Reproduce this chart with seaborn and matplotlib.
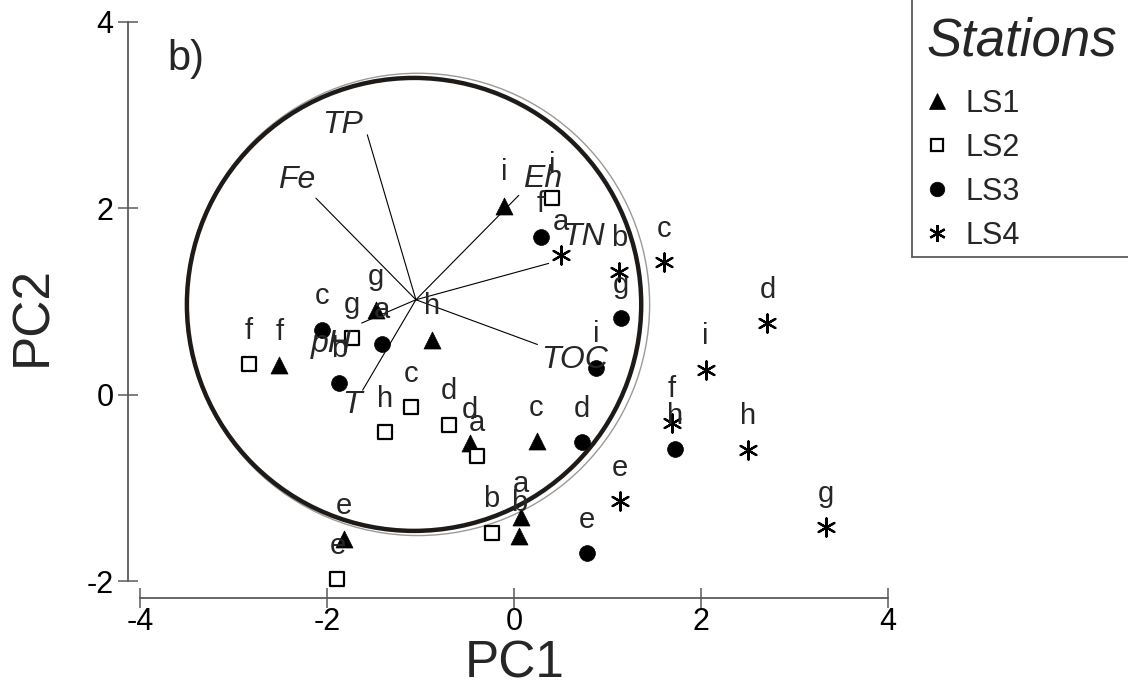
import numpy as np
import pandas as pd
import matplotlib
matplotlib.use("Agg")
import matplotlib.pyplot as plt
import seaborn as sns
from matplotlib.patches import Ellipse
from matplotlib.lines import Line2D

sns.set_theme(style="white")
plt.rcParams['font.family'] = ['Liberation Sans', 'DejaVu Sans']
plt.rcParams['axes.unicode_minus'] = False

# Sample codes shared by every station
samples = list("abcdefghi")

# PCA scores (PC1, PC2) per station, in sample order a..i
ls1_pc1 = [0.07, 0.05, 0.24, -0.47, -1.82, -2.51, -1.48, -0.88, -0.11]
ls1_pc2 = [-1.31, -1.52, -0.50, -0.52, -1.55, 0.32, 0.91, 0.59, 2.03]
ls2_pc1 = [-0.40, -0.24, -1.10, -0.70, -1.89, -2.84, -1.73, -1.38, 0.41]
ls2_pc2 = [-0.66, -1.48, -0.13, -0.32, -1.98, 0.33, 0.61, -0.40, 2.11]
ls3_pc1 = [-1.41, -1.87, -2.05, 0.73, 0.78, 0.29, 1.14, 1.72, 0.88]
ls3_pc2 = [0.55, 0.13, 0.70, -0.51, -1.70, 1.69, 0.82, -0.58, 0.29]
ls4_pc1 = [0.50, 1.12, 1.60, 2.71, 1.13, 1.69, 3.34, 2.50, 2.05]
ls4_pc2 = [1.50, 1.32, 1.42, 0.77, -1.14, -0.30, -1.42, -0.59, 0.27]

stations = ["LS1", "LS2", "LS3", "LS4"]

# Variable loadings drawn as rays from a common origin
origin = (-1.05, 1.02)
variables = ["TP", "Fe", "Eh", "TN", "TOC", "T", "pH"]
var_pc1 = [-1.57, -2.12, 0.05, 0.37, 0.25, -1.62, -1.63]
var_pc2 = [2.79, 2.11, 2.14, 1.41, 0.54, 0.05, 0.77]

# Correlation circle
circle_center = (-1.07, 0.97)
circle_radius = 2.43

scores = pd.DataFrame({
    "station": np.repeat(stations, len(samples)),
    "sample": samples * len(stations),
    "PC1": ls1_pc1 + ls2_pc1 + ls3_pc1 + ls4_pc1,
    "PC2": ls1_pc2 + ls2_pc2 + ls3_pc2 + ls4_pc2,
})

marker_styles = {
    "LS1": dict(marker="^", facecolor="black", edgecolor="black", s=150, linewidth=0.5, ms=11.5),
    "LS2": dict(marker="s", facecolor="white", edgecolor="black", s=100, linewidth=1.6, ms=8.5),
    "LS3": dict(marker="o", facecolor="black", edgecolor="black", s=130, linewidth=0.5, ms=10.5),
    "LS4": dict(marker=(6, 2, 0), facecolor="black", edgecolor="black", s=170, linewidth=1.6, ms=12),
}

W, H = 1128, 698
fig = plt.figure(figsize=(W / 100, H / 100), dpi=100)
ax = fig.add_axes([128 / W, 100 / H, 760 / W, 576 / H])

# Correlation circle with its light outer rim
ax.add_patch(Ellipse((circle_center[0] + 0.04, circle_center[1]), 2 * (circle_radius + 0.05),
                     2 * (circle_radius + 0.05), fill=False, edgecolor="#9a9a9a", lw=1.0, zorder=1))
ax.add_patch(Ellipse(circle_center, 2 * circle_radius, 2 * circle_radius,
                     fill=False, edgecolor="#1e1a18", lw=3.2, zorder=2))

# Loading rays and their italic labels
label_offsets = {"TP": (-18, 7), "Fe": (-14, 13), "Eh": (17, 12), "TN": (25, 19),
                 "TOC": (27, -11), "T": (-8, -11), "pH": (-22, -15)}
for name, vx, vy in zip(variables, var_pc1, var_pc2):
    ax.plot([origin[0], vx], [origin[1], vy], color="black", lw=0.8, zorder=3)
    ax.annotate(name, (vx, vy), xytext=label_offsets[name], textcoords="offset points",
                ha="center", va="center", fontsize=23, style="italic", zorder=5)

# Sample scores, one call per station so each gets its own marker
handles = []
for st in stations:
    sub = scores[scores["station"] == st]
    sty = marker_styles[st]
    sns.scatterplot(data=sub, x="PC1", y="PC2", ax=ax, marker=sty["marker"],
                    color=sty["facecolor"], edgecolor=sty["edgecolor"], s=sty["s"],
                    linewidth=sty["linewidth"], zorder=4, legend=False)
    for _, row in sub.iterrows():
        ax.annotate(row["sample"], (row["PC1"], row["PC2"]), xytext=(0, 24),
                    textcoords="offset points", ha="center", va="center",
                    fontsize=21, zorder=5)
    handles.append(Line2D([], [], linestyle="none", marker=sty["marker"],
                          markerfacecolor=sty["facecolor"], markeredgecolor=sty["edgecolor"],
                          markersize=sty["ms"], markeredgewidth=sty["linewidth"], label=st))

ax.set_xlim(-4.13, 4.0)
ax.set_ylim(-2.18, 4.0)
ax.set_xticks([-4, -2, 0, 2, 4])
ax.set_yticks([-2, 0, 2, 4])
for side in ("top", "right"):
    ax.spines[side].set_visible(False)
ax.spines["left"].set_bounds(-2, 4)
ax.spines["bottom"].set_bounds(-4, 4)
for side in ("left", "bottom"):
    ax.spines[side].set_color("#5a5a5a")
    ax.spines[side].set_linewidth(1.3)
ax.tick_params(bottom=True, left=True, direction="inout", length=15, width=1.1,
               color="#5a5a5a", labelsize=22, labelcolor="black")
ax.tick_params(axis="x", pad=-1)
ax.tick_params(axis="y", pad=3)
ax.set_xlabel("PC1", fontsize=37)
ax.set_ylabel("PC2", fontsize=37)
ax.xaxis.set_label_coords((515 - 128) / 760, -41 / 576)
ax.yaxis.set_label_coords(-71 / 760, 0.49)
ax.grid(False)

ax.text(0.052, 0.935, "b)", transform=ax.transAxes, fontsize=30, ha="left", va="center")

# Legend: italic heading, marker entries, and a partial frame on its left and bottom
fig.text(927 / W, 1 - 42 / H, "Stations", fontsize=38, style="italic", ha="left", va="center")
leg = fig.legend(handles=handles, loc="upper left", bbox_to_anchor=(926 / W, 1 - 89 / H),
                 frameon=False, fontsize=22, handletextpad=0.6,
                 labelspacing=0.46, handlelength=0.7, borderaxespad=0, borderpad=0)
fig.add_artist(Line2D([912 / W, 912 / W], [1.0, 1 - 257 / H], transform=fig.transFigure,
                      color="#5a5a5a", lw=1.3))
fig.add_artist(Line2D([912 / W, 1.0], [1 - 257 / H, 1 - 257 / H], transform=fig.transFigure,
                      color="#5a5a5a", lw=1.3))

fig.savefig("out.png", dpi=100, facecolor="white")
